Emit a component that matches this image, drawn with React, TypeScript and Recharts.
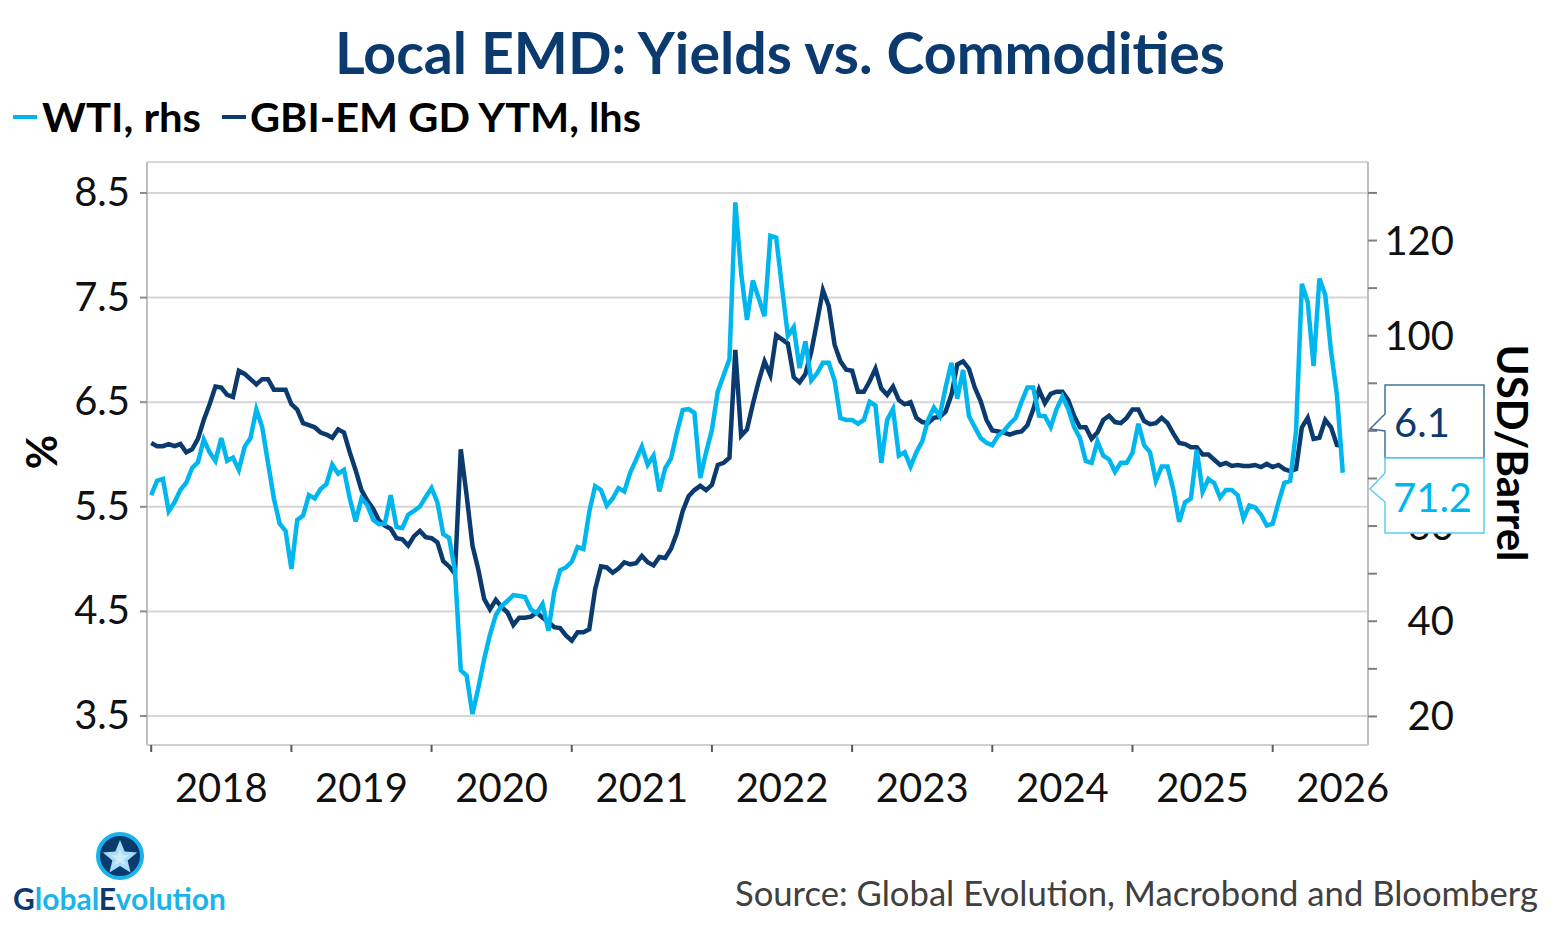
import React from 'react';
import { LineChart, Line, XAxis, YAxis, CartesianGrid } from 'recharts';

const START_YEAR = 2018;
const STEPS_PER_YEAR = 24; // semi-monthly observations

// GBI-EM GD yield to maturity, % (lhs) - one row per calendar year
const ytmByYear: number[][] = [
  [6.11, 6.08, 6.08, 6.10, 6.08, 6.10, 6.02, 6.05, 6.15, 6.33, 6.48, 6.65, 6.64, 6.57, 6.55, 6.80, 6.77, 6.72, 6.67, 6.72, 6.72, 6.62, 6.62, 6.62],
  [6.48, 6.43, 6.30, 6.28, 6.26, 6.21, 6.19, 6.16, 6.24, 6.21, 6.02, 5.85, 5.66, 5.56, 5.48, 5.37, 5.32, 5.29, 5.20, 5.19, 5.13, 5.22, 5.27, 5.21],
  [5.20, 5.16, 4.98, 4.93, 4.86, 6.05, 5.61, 5.13, 4.90, 4.62, 4.52, 4.61, 4.54, 4.49, 4.37, 4.44, 4.44, 4.45, 4.49, 4.44, 4.40, 4.35, 4.34, 4.27],
  [4.22, 4.30, 4.30, 4.33, 4.71, 4.93, 4.92, 4.87, 4.91, 4.97, 4.95, 4.96, 5.03, 4.97, 4.94, 5.02, 5.01, 5.10, 5.25, 5.46, 5.60, 5.66, 5.70, 5.66],
  [5.71, 5.90, 5.92, 5.97, 7.00, 6.18, 6.24, 6.48, 6.70, 6.89, 6.76, 7.14, 7.10, 7.06, 6.74, 6.69, 6.77, 6.98, 7.27, 7.57, 7.42, 7.05, 6.89, 6.81],
  [6.80, 6.60, 6.60, 6.70, 6.82, 6.63, 6.57, 6.65, 6.52, 6.48, 6.50, 6.35, 6.31, 6.30, 6.35, 6.36, 6.41, 6.57, 6.86, 6.89, 6.82, 6.64, 6.51, 6.33],
  [6.23, 6.22, 6.21, 6.19, 6.21, 6.22, 6.28, 6.43, 6.62, 6.49, 6.58, 6.60, 6.60, 6.52, 6.37, 6.26, 6.26, 6.15, 6.21, 6.33, 6.37, 6.31, 6.30, 6.35],
  [6.43, 6.43, 6.32, 6.29, 6.30, 6.35, 6.30, 6.20, 6.11, 6.10, 6.07, 6.07, 6.00, 6.00, 5.95, 5.90, 5.92, 5.89, 5.90, 5.89, 5.89, 5.90, 5.88, 5.91],
  [5.88, 5.90, 5.86, 5.84, 5.86, 6.26, 6.35, 6.15, 6.16, 6.33, 6.26, 6.09, 6.08],
];

// WTI crude, USD/barrel (rhs)
const wtiByYear: number[][] = [
  [66.5, 69.5, 69.9, 63.1, 65.0, 67.6, 69.1, 72.2, 73.4, 78.2, 75.5, 73.7, 78.5, 73.7, 74.4, 71.8, 76.7, 78.5, 84.5, 80.8, 73.3, 65.8, 60.5, 59.0],
  [51.0, 61.3, 62.2, 66.5, 65.8, 67.8, 68.8, 72.9, 71.0, 71.8, 65.8, 61.0, 65.8, 64.4, 61.3, 60.4, 60.5, 66.5, 59.8, 59.6, 62.4, 63.2, 64.1, 66.1],
  [68.0, 65.0, 58.3, 57.5, 50.7, 29.7, 28.6, 20.5, 26.0, 32.0, 37.2, 41.3, 43.2, 44.3, 45.5, 45.3, 45.1, 42.5, 41.7, 43.6, 38.0, 46.2, 50.7, 51.3],
  [52.5, 55.6, 55.2, 63.0, 68.4, 67.6, 64.3, 65.8, 68.0, 67.3, 71.2, 73.9, 76.7, 72.9, 74.8, 67.3, 72.2, 74.2, 79.7, 84.4, 84.6, 83.8, 70.1, 75.5],
  [80.2, 88.3, 91.7, 95.1, 128.0, 113.1, 103.3, 111.6, 107.9, 104.1, 121.0, 120.6, 110.1, 100.0, 101.8, 93.2, 98.8, 90.6, 92.1, 94.3, 94.3, 90.6, 82.7, 82.3],
  [82.3, 81.5, 82.3, 86.1, 85.3, 73.3, 82.3, 84.6, 74.8, 75.5, 72.5, 75.5, 77.8, 82.3, 84.9, 83.1, 89.1, 94.3, 86.8, 92.8, 83.1, 80.8, 78.5, 77.5],
  [77.0, 79.0, 80.0, 81.5, 82.7, 86.1, 89.1, 89.1, 83.2, 83.1, 80.8, 84.6, 87.2, 84.6, 80.8, 78.5, 73.7, 73.3, 77.8, 74.8, 74.0, 71.4, 73.3, 73.3],
  [75.4, 81.5, 77.0, 75.5, 69.5, 72.5, 72.5, 67.6, 60.9, 65.0, 65.8, 76.0, 67.2, 69.9, 69.0, 66.0, 67.6, 67.6, 66.5, 61.6, 64.3, 63.9, 62.4, 60.1],
  [60.5, 65.0, 69.1, 69.5, 80.0, 110.9, 107.1, 93.6, 112.0, 108.6, 96.6, 87.6, 71.2],
];

const yearTicks = [2018, 2019, 2020, 2021, 2022, 2023, 2024, 2025, 2026];
const leftTicks = [3.5, 4.5, 5.5, 6.5, 7.5, 8.5];
const rightTicks = [20, 30, 40, 50, 60, 70, 80, 90, 100, 110, 120, 130];
// right-axis labels that the last-value callouts cover completely
const coveredRightLabels = [80];

const data = ytmByYear.flatMap((row, y) =>
  row.map((v, i) => ({
    t: START_YEAR + y + i / STEPS_PER_YEAR,
    ytm: v,
    wti: wtiByYear[y][i],
  }))
);

const lastYtm = ytmByYear[ytmByYear.length - 1].slice(-1)[0];
const lastWti = wtiByYear[wtiByYear.length - 1].slice(-1)[0];

const NAVY = '#0a3a6e';
const CYAN = '#00b6ef';
const FONT = 'Lato, "Open Sans", sans-serif';

const X_DOMAIN: [number, number] = [2017.97, 2026.68];
const PLOT_W = 1368 - 147;
const HALF_YEAR_PX = PLOT_W / (X_DOMAIN[1] - X_DOMAIN[0]) / 2;

const XTick = ({ x, y, payload }: any) => (
  <text x={x + HALF_YEAR_PX} y={y + 48} textAnchor="middle" fontFamily={FONT} fontSize={40} fill="#111">
    {payload.value}
  </text>
);

const LeftTick = ({ x, y, payload }: any) => (
  <text x={x} y={y} dy={13} textAnchor="end" fontFamily={FONT} fontSize={40} fill="#111">
    {Number(payload.value).toFixed(1)}
  </text>
);

const RightTick = ({ x, y, payload }: any) => {
  const v = Number(payload.value);
  if (v % 20 !== 0 || v > 120 || coveredRightLabels.includes(v)) return <g />;
  return (
    <text x={x + 75} y={y} dy={14} textAnchor="end" fontFamily={FONT} fontSize={40} fill="#111">
      {v}
    </text>
  );
};

function starPoints(cx: number, cy: number, ro: number, ri: number) {
  const pts: string[] = [];
  for (let k = 0; k < 10; k++) {
    const r = k % 2 === 0 ? ro : ri;
    const a = -Math.PI / 2 + (k * Math.PI) / 5;
    pts.push(`${cx + r * Math.cos(a)},${cy + r * Math.sin(a)}`);
  }
  return pts.join(' ');
}

export default function App() {
  return (
    <div style={{ position: 'absolute', left: 0, top: 0, width: 1558, height: 935, background: '#fff' }}>
      <LineChart width={1558} height={935} data={data} margin={{ top: 162, right: 0, bottom: 130, left: 0 }}>
        <CartesianGrid yAxisId="left" vertical={false} stroke="#d6d6d6" strokeWidth={2} />
        <XAxis
          dataKey="t"
          type="number"
          domain={X_DOMAIN}
          ticks={yearTicks}
          interval={0}
          allowDataOverflow
          height={60}
          axisLine={{ stroke: '#d0d0d0', strokeWidth: 2 }}
          tickLine={{ stroke: '#595959', strokeWidth: 2 }}
          tickSize={7}
          tick={XTick}
        />
        <YAxis
          yAxisId="left"
          orientation="left"
          width={147}
          type="number"
          domain={[3.223, 8.796]}
          ticks={leftTicks}
          interval={0}
          allowDataOverflow
          axisLine={{ stroke: '#bfbfbf', strokeWidth: 2 }}
          tickLine={{ stroke: '#8c8c8c', strokeWidth: 2 }}
          tickSize={7}
          tickMargin={10}
          tick={LeftTick}
        />
        <YAxis
          yAxisId="right"
          orientation="right"
          width={190}
          type="number"
          domain={[14.0, 136.5]}
          ticks={rightTicks}
          interval={0}
          allowDataOverflow
          axisLine={{ stroke: '#bfbfbf', strokeWidth: 2 }}
          tickLine={{ stroke: '#7f7f7f', strokeWidth: 2 }}
          tickSize={9}
          tick={RightTick}
        />
        <Line
          yAxisId="left"
          dataKey="ytm"
          type="linear"
          stroke={NAVY}
          strokeWidth={4.5}
          dot={false}
          isAnimationActive={false}
        />
        <Line
          yAxisId="right"
          dataKey="wti"
          type="linear"
          stroke={CYAN}
          strokeWidth={4.5}
          dot={false}
          isAnimationActive={false}
        />
      </LineChart>

      <svg width={1558} height={935} style={{ position: 'absolute', left: 0, top: 0, pointerEvents: 'none' }}>
        {/* title */}
        <text x={335} y={74} fontFamily={FONT} fontWeight={700} fontSize={58} fill="#0b3a6e" textLength={890} lengthAdjust="spacingAndGlyphs">
          Local EMD: Yields vs. Commodities
        </text>

        {/* legend */}
        <rect x={13} y={115} width={24} height={4} fill={CYAN} />
        <text x={42} y={132} fontFamily={FONT} fontWeight={700} fontSize={41} fill="#000" textLength={159} lengthAdjust="spacingAndGlyphs">
          WTI, rhs
        </text>
        <rect x={222} y={115} width={24} height={4} fill={NAVY} />
        <text x={250} y={132} fontFamily={FONT} fontWeight={700} fontSize={41} fill="#000" textLength={391} lengthAdjust="spacingAndGlyphs">
          GBI-EM GD YTM, lhs
        </text>

        {/* axis titles */}
        <text transform="translate(57,452) rotate(-90)" textAnchor="middle" fontFamily={FONT} fontWeight={700} fontSize={42} fill="#000">
          %
        </text>
        <text transform="translate(1497,453) rotate(90)" textAnchor="middle" fontFamily={FONT} fontWeight={700} fontSize={42} fill="#000" textLength={217} lengthAdjust="spacingAndGlyphs">
          USD/Barrel
        </text>

        {/* last-value callouts */}
        <path d="M1385,385 H1484 V458 H1385 V431 L1370,429 L1385,414 Z" fill="#fff" stroke="#41719c" strokeWidth={1.5} />
        <text x={1394} y={437} fontFamily={FONT} fontSize={40} fill="#0b3a6e">
          {lastYtm.toFixed(1)}
        </text>
        <path d="M1385,458 H1484 V533 H1385 V502 L1370,489 L1385,473 Z" fill="#fff" stroke="#5ccdf3" strokeWidth={1.5} />
        <text x={1393} y={512} fontFamily={FONT} fontSize={40} fill={CYAN}>
          {lastWti.toFixed(1)}
        </text>

        {/* source */}
        <text x={735} y={906} fontFamily={FONT} fontSize={35} fill="#404040" textLength={803} lengthAdjust="spacingAndGlyphs">
          Source: Global Evolution, Macrobond and Bloomberg
        </text>

        {/* logo */}
        <circle cx={120} cy={856} r={22} fill="#0b3a6e" stroke="#1ab4ea" strokeWidth={4} />
        <polygon points={starPoints(120, 858, 18, 8)} fill="#a9dcf6" />
        <polygon points={starPoints(120, 858, 9, 4)} fill="#cdeafb" />
        <text x={13} y={910} fontFamily={FONT} fontWeight={700} fontSize={30} textLength={213} lengthAdjust="spacingAndGlyphs">
          <tspan fill="#0b3a6e">G</tspan>
          <tspan fill="#1ab4ea">lobal</tspan>
          <tspan fill="#0b3a6e">E</tspan>
          <tspan fill="#1ab4ea">volution</tspan>
        </text>
      </svg>
    </div>
  );
}
